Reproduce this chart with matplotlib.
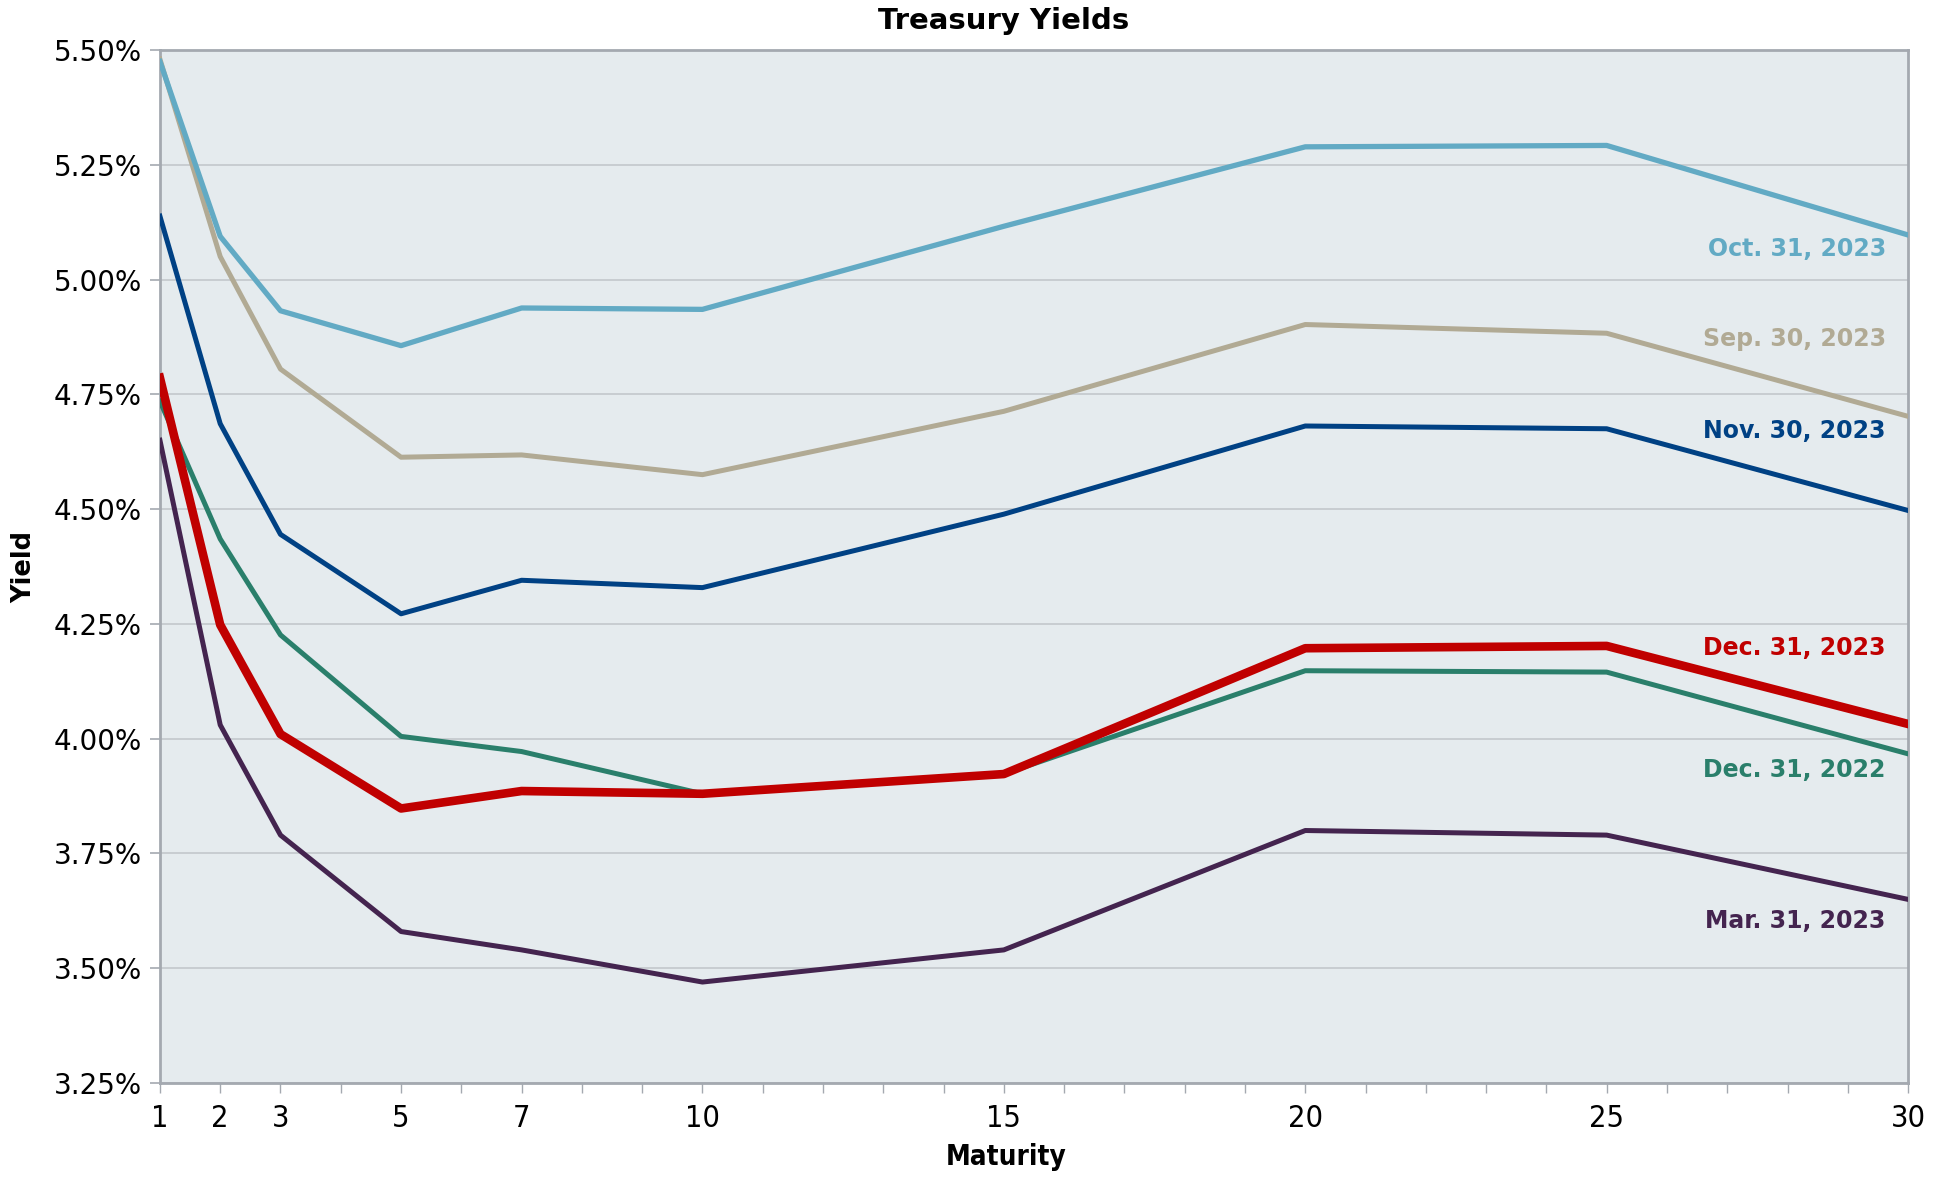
import numpy as np
import matplotlib
matplotlib.use('Agg')
import matplotlib.pyplot as plt
from matplotlib.ticker import FuncFormatter, FixedLocator, MultipleLocator

# Vencimientos (años)
maturity = [1, 2, 3, 5, 7, 10, 15, 20, 25, 30]

# Rendimientos (%)
mar_2023 = [4.65, 4.03, 3.79, 3.58, 3.54, 3.47, 3.54, 3.80, 3.79, 3.65]
sep_2023 = [5.48, 5.05, 4.805, 4.613, 4.618, 4.575, 4.713, 4.902, 4.883, 4.702]
oct_2023 = [5.475, 5.094, 4.932, 4.856, 4.938, 4.935, 5.116, 5.289, 5.292, 5.097]
nov_2023 = [5.138, 4.686, 4.445, 4.272, 4.345, 4.329, 4.489, 4.681, 4.675, 4.497]
dec_2022 = [4.735, 4.435, 4.226, 4.005, 3.972, 3.88, 3.923, 4.148, 4.145, 3.967]
dec_2023 = [4.786, 4.248, 4.010, 3.848, 3.886, 3.880, 3.923, 4.197, 4.202, 4.032]

labels = ['Oct. 31, 2023', 'Sep. 30, 2023', 'Nov. 30, 2023',
          'Dec. 31, 2023', 'Dec. 31, 2022', 'Mar. 31, 2023']
label_y = [5.067, 4.870, 4.670, 4.197, 3.932, 3.602]

x_ticks = [1, 2, 3, 5, 7, 10, 15, 20, 25, 30]

c_oct = '#62aac4'
c_sep = '#b1aa94'
c_nov = '#004184'
c_dec23 = '#c00000'
c_dec22 = '#2a7f6b'
c_mar = '#44244f'

fig = plt.figure(figsize=(19.48, 11.78), dpi=100)
ax = fig.add_axes([0.0821, 0.0806, 0.8974, 0.877])
ax.set_facecolor('#e5ebee')

ax.plot(maturity, mar_2023, color=c_mar, lw=3.6, zorder=3)
ax.plot(maturity, dec_2022, color=c_dec22, lw=3.6, zorder=3)
ax.plot(maturity, nov_2023, color=c_nov, lw=3.6, zorder=3)
ax.plot(maturity, sep_2023, color=c_sep, lw=3.6, zorder=3)
ax.plot(maturity, oct_2023, color=c_oct, lw=3.8, zorder=4)
ax.plot(maturity, dec_2023, color=c_dec23, lw=6.2, zorder=5)

colors = [c_oct, c_sep, c_nov, c_dec23, c_dec22, c_mar]
for lab, yy, cc in zip(labels, label_y, colors):
    ax.text(29.63, yy, lab, color=cc, fontsize=17, fontweight='bold',
            ha='right', va='center', zorder=6)

ax.set_xlim(1, 30)
ax.set_ylim(3.25, 5.50)
ax.yaxis.set_major_locator(MultipleLocator(0.25))
ax.yaxis.set_major_formatter(FuncFormatter(lambda v, p: f'{v:.2f}%'))
ax.xaxis.set_major_locator(FixedLocator(x_ticks))
ax.xaxis.set_minor_locator(MultipleLocator(1))

ax.grid(axis='y', color='#c3c7cc', lw=1.2, zorder=1)
for s in ax.spines.values():
    s.set_color('#a4a9b0')
    s.set_linewidth(2)

ax.tick_params(axis='y', which='major', length=7, width=1.2, color='#a4a9b0',
               labelsize=20, pad=6)
ax.tick_params(axis='x', which='both', length=7, width=1, color='#a4a9b0',
               labelsize=22, pad=8)
for t in ax.get_xticklabels():
    t.set_fontstretch('condensed')

ax.set_xlabel('Maturity', fontsize=20, fontweight='bold', labelpad=4,
              fontstretch='condensed')
ax.xaxis.set_label_coords(0.484, -0.058)
ax.set_ylabel('Yield', fontsize=18.5, fontweight='bold', labelpad=12)
fig.text(0.515, 0.982, 'Treasury Yields', fontsize=21, fontweight='bold',
         ha='center', va='center')

fig.savefig('out.png', dpi=100)
